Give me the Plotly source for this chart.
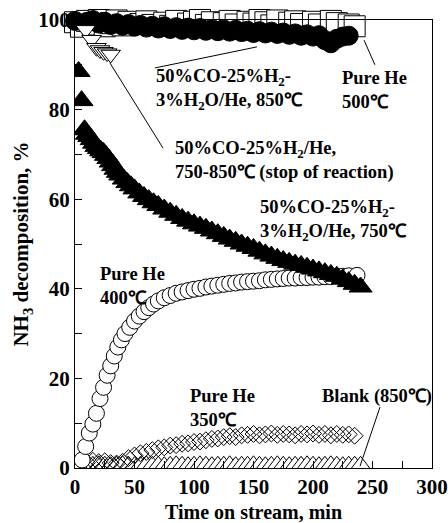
import plotly.graph_objects as go

FONT = "Liberation Serif"

# ---------------- data ----------------
# Pure He 500 C (open squares)
t_he500 = [0, 5, 10, 15, 20, 25, 30, 35, 40, 45, 50, 55, 60, 65, 70, 75, 80, 85, 90, 95,
           100, 105, 110, 115, 120, 125, 130, 135, 140, 145, 150, 155, 160, 165, 170, 175,
           180, 185, 190, 195, 200, 205, 210, 215, 220, 225, 230, 235]
v_he500 = [99.5, 98.5, 99.8, 99.0, 100.0, 98.6, 99.3, 99.9, 98.8, 99.6, 100.2, 99.1, 99.7, 98.9,
           100.1, 99.4, 98.7, 99.8, 100.3, 99.2, 99.6, 100.0, 98.9, 99.5, 100.2, 99.3, 99.8, 99.0,
           100.1, 99.6, 99.2, 100.0, 99.5, 98.8, 99.9, 100.3, 99.4, 99.7, 99.1, 100.2, 99.6, 99.0,
           100.4, 99.8, 99.3, 100.5, 99.0, 98.6]

# 50%CO-25%H2-3%H2O/He, 850 C (filled circles)
t_850 = [0, 5, 10, 15, 20, 25, 30, 35, 40, 45, 50, 55, 60, 65, 70, 75, 80, 85, 90, 95,
         100, 105, 110, 115, 120, 125, 130, 135, 140, 145, 150, 155, 160, 165, 170, 175,
         180, 185, 190, 195, 200, 205, 210, 215, 220, 225, 230]
v_850 = [99.8, 100.2, 99.6, 100.0, 99.2, 99.6, 98.9, 99.3, 98.7, 99.1, 98.5, 98.9, 98.3, 98.7,
         98.1, 98.6, 98.0, 98.4, 97.8, 98.3, 97.7, 98.2, 97.6, 98.0, 97.5, 97.9, 97.4, 97.8,
         97.3, 97.6, 97.1, 97.5, 97.0, 97.4, 96.9, 97.2, 96.7, 97.0, 96.5, 96.8, 96.3, 96.6,
         95.5, 94.8, 95.8, 96.3, 96.5]

# 50%CO-25%H2/He, 750-850 C, stop of reaction (open down triangles)
t_stop = [2, 9, 14, 18, 21, 24, 27, 30]
v_stop = [100.5, 97.8, 95.6, 93.8, 93.3, 92.9, 92.6, 92.3]

# 50%CO-25%H2-3%H2O/He, 750 C (filled up triangles)
t_750 = [3, 5.5, 8, 10, 12, 14, 16, 18, 20, 22, 24, 26, 28, 30, 32, 34, 36, 38, 41, 44, 47,
         50, 54, 58, 62, 66, 70, 75, 80, 85, 90, 95, 100, 105, 110, 115, 120, 125, 130, 135,
         140, 145, 150, 155, 160, 165, 170, 175, 180, 185, 190, 195, 200, 205, 210, 215, 220,
         225, 230, 235, 240]
v_750 = [88.5, 82.0, 75.5, 74.5, 74.0, 73.3, 72.5, 71.8, 71.3, 70.8, 70.4, 69.8, 69.1, 68.3,
         67.5, 66.7, 66.0, 65.4, 64.5, 63.7, 63.0, 62.3, 61.4, 60.6, 59.9, 59.2, 58.6, 57.8,
         57.1, 56.4, 55.7, 55.1, 54.5, 54.0, 53.5, 52.9, 52.3, 51.7, 51.1, 50.6, 50.0, 49.5,
         49.0, 48.4, 47.8, 47.3, 46.8, 46.3, 45.9, 45.5, 45.2, 44.8, 44.4, 44.0, 43.6, 43.2,
         42.8, 42.2, 41.6, 41.0, 40.4]

# Pure He 400 C (open circles)
t_he400 = [3, 6, 9, 12, 15, 18, 21, 24, 27, 30, 33, 36, 39, 42, 46, 50, 54, 58, 62, 66, 70,
           75, 80, 85, 90, 95, 100, 105, 110, 115, 120, 125, 130, 135, 140, 145, 150, 155,
           160, 165, 170, 175, 180, 185, 190, 195, 200, 205, 210, 215, 220, 225, 230, 237]
v_he400 = [0.2, 1.8, 4.8, 7.8, 9.8, 12.2, 15.5, 18.0, 20.7, 22.8, 25.0, 27.0, 28.6, 30.0,
           31.4, 32.8, 33.9, 34.9, 35.8, 36.6, 37.3, 38.0, 38.5, 39.0, 39.3, 39.6, 39.9, 40.1,
           40.4, 40.6, 40.8, 41.0, 41.2, 41.3, 41.5, 41.6, 41.7, 41.8, 42.0, 42.1, 42.2, 42.3,
           42.4, 42.4, 42.5, 42.5, 42.6, 42.6, 42.7, 42.7, 42.8, 42.8, 42.9, 43.0]

# Pure He 350 C (open diamonds)
t_he350 = [0, 5, 10, 15, 20, 25, 30, 35, 40, 45, 50, 55, 60, 65, 70, 75, 80, 85, 90, 95,
           100, 105, 110, 115, 120, 125, 130, 135, 140, 145, 150, 155, 160, 165, 170, 175,
           180, 185, 190, 195, 200, 205, 210, 215, 220, 225, 230, 235]
v_he350 = [0.8, 1.5, 1.2, 1.6, 1.3, 1.5, 1.1, 1.0, 1.4, 2.2, 2.8, 3.3, 3.6, 4.0, 4.4, 4.6,
           5.0, 5.1, 5.4, 5.5, 5.8, 5.9, 6.2, 6.5, 6.6, 6.9, 7.1, 6.9, 7.3, 7.4, 7.6, 7.3,
           7.5, 7.7, 7.4, 7.6, 7.5, 7.3, 7.6, 7.5, 7.7, 7.4, 7.6, 7.3, 7.6, 7.4, 7.5, 7.2]

# Blank (850 C) (open up triangles)
t_blank = [0, 5, 10, 15, 20, 25, 30, 35, 40, 45, 50, 55, 60, 65, 70, 75, 80, 85, 90, 95,
           100, 105, 110, 115, 120, 125, 130, 135, 140, 145, 150, 155, 160, 165, 170, 175,
           180, 185, 190, 195, 200, 205, 210, 215, 220, 225, 230, 235, 240]
v_blank = [0.5, 0.6, 0.4, 0.5, 0.6, 0.5, 0.4, 0.5, 0.6, 0.5, 0.4, 0.5, 0.6, 0.5, 0.5, 0.4,
           0.5, 0.6, 0.5, 0.4, 0.5, 0.6, 0.5, 0.4, 0.5, 0.5, 0.6, 0.4, 0.5, 0.5, 0.6, 0.5,
           0.4, 0.5, 0.6, 0.5, 0.4, 0.5, 0.5, 0.6, 0.5, 0.4, 0.5, 0.6, 0.5, 0.4, 0.5, 0.5, 0.5]

x_ticks = [0, 50, 100, 150, 200, 250, 300]
y_ticks = [0, 20, 40, 60, 80, 100]

# ---------------- figure ----------------
fig = go.Figure()


def add(x, y, symbol, size, fill, lw=1.0, clip=True):
    fig.add_trace(go.Scatter(
        x=x, y=y, mode="markers", cliponaxis=clip, showlegend=False,
        marker=dict(symbol=symbol, size=size, color=fill,
                    line=dict(color="black", width=lw))))


add(t_blank, v_blank, "triangle-up", 19, "white")
add(t_he350, v_he350, "diamond-open", 13, "black")
add(t_he500, v_he500, "square", 21, "white", clip=False)
add(t_850, v_850, "circle", 19, "black", clip=False)
add(t_stop, v_stop, "triangle-down", 17, "white", clip=False)
add(t_he400, v_he400, "circle", 16, "white")
add(t_750, v_750, "triangle-up", 20, "black")

bold = dict(family=FONT, size=18.5, color="black", weight="bold")

labels = [
    (66.4, 84.4, "50%CO-25%H<sub>2</sub>-<br>3%H<sub>2</sub>O/He, 850\u2103"),
    (222.7, 84.4, "Pure He<br>500\u2103"),
    (82.0, 68.7, "50%CO-25%H<sub>2</sub>/He,<br>750-850\u2103 (stop of reaction)"),
    (153.8, 55.2, "50%CO-25%H<sub>2</sub>-<br>3%H<sub>2</sub>O/He, 750\u2103"),
    (19.3, 40.6, "Pure He<br>400\u2103"),
    (95.0, 13.5, "Pure He<br>350\u2103"),
    (206.0, 15.9, "Blank (850\u2103)"),
]
for x, y, txt in labels:
    fig.add_annotation(x=x, y=y, xref="x", yref="y", text=txt, showarrow=False,
                       xanchor="left", yanchor="middle", align="left", font=bold)

leaders = [
    (67.2, 89.3, 152.9, 94.0),
    (252.0, 90.0, 242.9, 95.5),
    (74.0, 71.4, 29.4, 90.4),
    (256.3, 13.6, 239.5, 0.4),
]
for x0, y0, x1, y1 in leaders:
    fig.add_shape(type="line", xref="x", yref="y", x0=x0, y0=y0, x1=x1, y1=y1,
                  line=dict(color="black", width=1))

axis_common = dict(
    showline=True, linecolor="black", linewidth=1, mirror=True,
    ticks="inside", ticklen=7, tickwidth=1, tickcolor="black",
    showgrid=False, zeroline=False,
    tickfont=dict(family=FONT, size=21, color="black", weight="bold"),
)

fig.update_layout(
    width=448, height=523,
    margin=dict(l=75, r=16, t=20, b=55),
    paper_bgcolor="white", plot_bgcolor="white",
    xaxis=dict(range=[0, 300], tickvals=x_ticks,
               minor=dict(dtick=25, ticks="inside", ticklen=7, tickcolor="black", showgrid=False),
               title=dict(text="Time on stream, min", standoff=12,
                          font=dict(family=FONT, size=20, color="black", weight="bold")),
               automargin=False, **axis_common),
    yaxis=dict(range=[0, 100], tickvals=y_ticks,
               minor=dict(dtick=10, ticks="inside", ticklen=7, tickcolor="black", showgrid=False),
               title=dict(text="NH<sub>3</sub> decomposition, %", standoff=3,
                          font=dict(family=FONT, size=21, color="black", weight="bold")),
               automargin=False, **axis_common),
)

fig.write_html("out.html")
